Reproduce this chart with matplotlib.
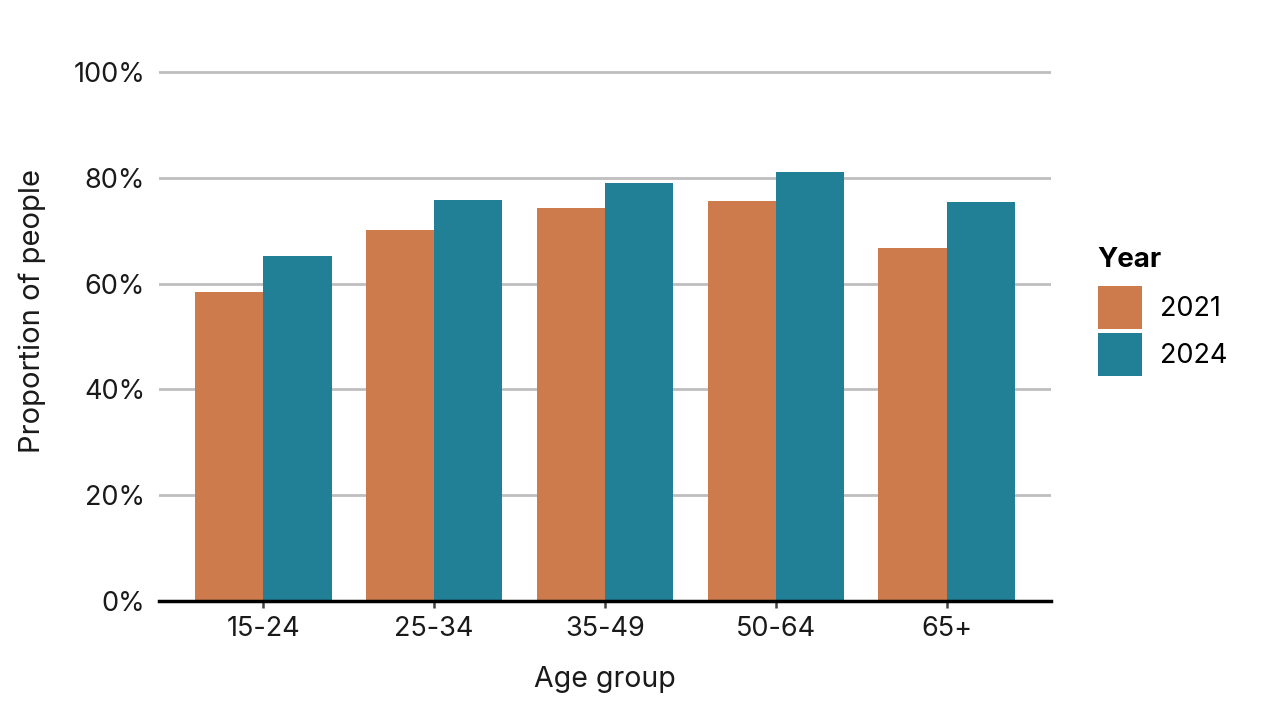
import numpy as np
import matplotlib.pyplot as plt
from matplotlib.patches import Patch

# Data (percent of people)
age_groups = ['15-24', '25-34', '35-49', '50-64', '65+']
years = ['2021', '2024']
share_2021 = [58.5, 70.1, 74.3, 75.6, 66.8]
share_2024 = [65.2, 75.8, 79.0, 81.1, 75.4]
y_ticks = [0, 20, 40, 60, 80, 100]

colors = {'2021': '#CD7B4D', '2024': '#218096'}

plt.rcParams['font.family'] = ['Inter', 'DejaVu Sans']

W, H = 1268, 714
fig = plt.figure(figsize=(W / 100, H / 100), dpi=100)

# axes box in pixel coordinates
x0, x1 = 159, 1051
y_bottom, y_top = 601, 68
ax = fig.add_axes([x0 / W, 1 - y_bottom / H, (x1 - x0) / W, (y_bottom - y_top) / H])

x = np.arange(len(age_groups))
bar_w = 0.4
ax.bar(x - bar_w / 2, share_2021, width=bar_w, color=colors['2021'], zorder=3)
ax.bar(x + bar_w / 2, share_2024, width=bar_w, color=colors['2024'], zorder=3)

px_per_unit = (y_bottom - 72) / 100
ax.set_ylim(0, (y_bottom - y_top) / px_per_unit)
ax.set_xlim(-0.61, len(age_groups) - 0.39)

ax.set_yticks(y_ticks)
ax.set_yticklabels([f'{v}%' for v in y_ticks])
ax.set_xticks(x)
ax.set_xticklabels(age_groups)

ax.yaxis.grid(True, color='#BEBEBE', linewidth=2, zorder=0)
ax.set_axisbelow(True)

for side in ['top', 'right', 'left']:
    ax.spines[side].set_visible(False)
ax.spines['bottom'].set_color('black')
ax.spines['bottom'].set_linewidth(2.5)
ax.spines['bottom'].set_zorder(4)

tick_size = 19.5
ax.tick_params(axis='y', length=0, pad=10, labelsize=tick_size, labelcolor='#1a1a1a')
ax.tick_params(axis='x', length=5, width=1.8, color='#444444', pad=6,
               labelsize=tick_size, labelcolor='#1a1a1a')

ax.set_xlabel('Age group', fontsize=20.5, color='#1a1a1a')
ax.set_ylabel('Proportion of people', fontsize=21, color='#1a1a1a')
# place axis titles where the reference has them (pixel -> axes coords)
ax.xaxis.set_label_coords((605 - x0) / (x1 - x0), (y_bottom - 693) / (y_bottom - y_top))
ax.yaxis.set_label_coords((19 - x0) / (x1 - x0), (y_bottom - 311) / (y_bottom - y_top))
ax.xaxis.label.set_va('bottom')
ax.yaxis.label.set_va('top')

# legend: title drawn separately so the gap above the keys matches
fig.text(1097 / W, 1 - 267 / H, 'Year', fontsize=20, fontweight='bold',
         ha='left', va='baseline', color='black')
handles = [Patch(facecolor=colors[y], edgecolor='none', label=y) for y in years]
leg = fig.legend(handles=handles, loc='upper left',
                 bbox_to_anchor=(1098 / W, 1 - 286 / H), frameon=False,
                 fontsize=tick_size, handlelength=1.63, handleheight=2.07,
                 handletextpad=0.67, labelspacing=0.15, borderpad=0,
                 borderaxespad=0)

fig.savefig('out.png', dpi=100, facecolor='white')
